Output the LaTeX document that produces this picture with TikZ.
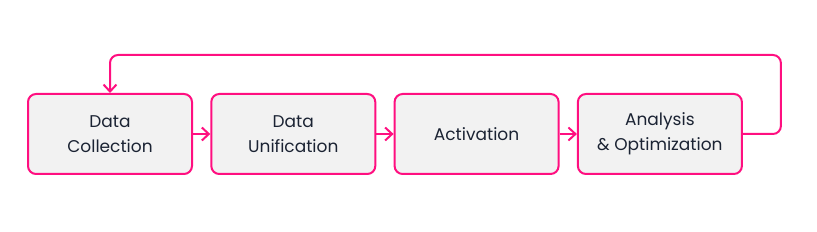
\documentclass[tikz,border=0pt]{standalone}
\usepackage{fontspec}
\setmainfont{Poppins}
\usepackage{xcolor}
\usetikzlibrary{positioning,arrows.meta}
\definecolor{loopPink}{HTML}{FF0F80}
\definecolor{boxGray}{HTML}{F2F2F2}
\definecolor{textDark}{HTML}{1B2333}

\begin{document}
\begin{tikzpicture}[
    x=1pt, y=1pt,
    node distance=17.3pt,
    stage/.style={rectangle, draw=loopPink, line width=2pt, rounded corners=8pt, fill=boxGray, text=textDark, minimum width=164pt, minimum height=80pt, align=center, font=\fontsize{17}{25}\selectfont},
    arrow/.style={-{Straight Barb[length=7pt,width=13pt]}, draw=loopPink, line width=2pt}
]
    \useasboundingbox (0,0) rectangle (817,-232);
    \node[stage] (collect) at (110,-134) {Data\\Collection};
    \node[stage, right=of collect] (unify) {Data\\Unification};
    \node[stage, right=of unify] (activate) {Activation};
    \node[stage, right=of activate] (analyze) {Analysis\\\& Optimization};
    \draw[arrow] (collect) -- (unify);
    \draw[arrow] (unify) -- (activate);
    \draw[arrow] (activate) -- (analyze);
    % feedback loop
    \draw[arrow, rounded corners=8pt] (analyze.east) -| ++(38,79) -| (collect.north);
\end{tikzpicture}
\end{document}
